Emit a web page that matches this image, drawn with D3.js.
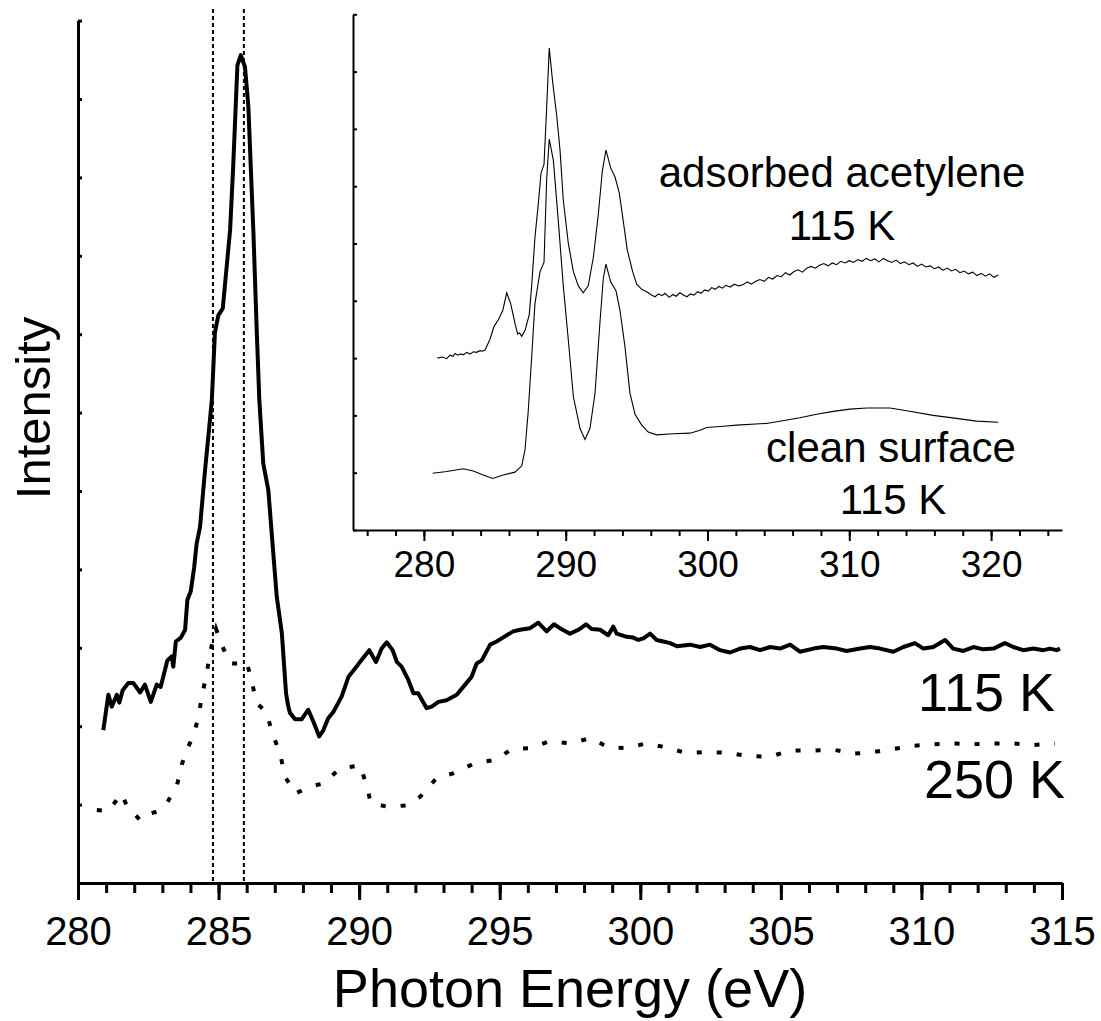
<!DOCTYPE html>
<html>
<head>
<meta charset="utf-8">
<script src="https://cdn.jsdelivr.net/npm/d3@7"></script>
<style>
  body { margin: 0; background: #fff; }
  text { font-family: "Liberation Sans", Arial, Helvetica, sans-serif; fill: #000; }
</style>
</head>
<body>
<svg id="chart" width="1101" height="1021"></svg>
<script>
// C 1s NEXAFS spectra: [photon energy (eV), intensity (arb. units)]
const spectrum115K = [
  [280.90,1.95],[281.08,2.40],[281.20,2.25],[281.38,2.40],[281.47,2.30],[281.59,2.46],[281.79,2.55],[281.97,2.55],
  [282.21,2.43],[282.38,2.53],[282.59,2.31],[282.80,2.53],[282.94,2.50],[283.18,2.84],[283.33,2.89],[283.39,2.76],
  [283.48,3.08],[283.66,3.13],[283.81,3.23],[283.89,3.61],[284.01,3.72],[284.13,4.02],[284.22,4.33],[284.34,4.54],
  [284.52,5.27],[284.67,5.82],[284.76,6.16],[284.87,7.02],[284.99,7.24],[285.15,7.33],[285.41,8.33],[285.52,9.14],
  [285.67,10.43],[285.79,10.56],[285.94,10.41],[286.06,9.90],[286.24,8.29],[286.36,7.02],[286.45,6.16],[286.59,5.35],
  [286.77,5.01],[286.89,4.46],[287.07,3.65],[287.25,3.19],[287.40,2.42],[287.48,2.25],[287.54,2.17],[287.72,2.09],
  [287.96,2.09],[288.19,2.21],[288.37,2.06],[288.58,1.87],[288.73,1.95],[288.90,2.10],[289.08,2.18],[289.38,2.38],
  [289.62,2.63],[289.91,2.76],[290.03,2.82],[290.36,2.97],[290.60,2.82],[290.80,2.99],[290.98,3.07],[291.19,2.97],
  [291.34,2.82],[291.51,2.76],[291.75,2.59],[291.93,2.42],[292.10,2.42],[292.40,2.23],[292.58,2.25],[292.82,2.31],
  [293.11,2.33],[293.47,2.40],[293.77,2.53],[294.00,2.63],[294.18,2.80],[294.36,2.84],[294.66,3.04],[294.89,3.08],
  [295.07,3.12],[295.25,3.16],[295.48,3.21],[295.72,3.23],[296.08,3.25],[296.37,3.32],[296.67,3.21],[296.93,3.30],
  [297.14,3.25],[297.50,3.18],[297.80,3.23],[298.07,3.30],[298.27,3.24],[298.57,3.23],[298.86,3.16],[299.04,3.27],
  [299.16,3.18],[299.52,3.14],[299.75,3.13],[299.93,3.10],[300.11,3.12],[300.35,3.18],[300.58,3.10],[300.82,3.08],
  [301.06,3.06],[301.30,3.02],[301.77,3.04],[302.13,3.01],[302.48,3.04],[302.84,2.97],[303.19,2.94],[303.55,2.99],
  [303.90,3.01],[304.26,2.97],[304.62,3.01],[304.97,2.99],[305.33,3.04],[305.68,2.95],[306.16,2.99],[306.51,3.01],
  [306.99,2.99],[307.34,2.96],[307.82,2.99],[308.17,3.01],[308.53,2.99],[309.00,2.95],[309.36,3.01],[309.77,3.06],
  [310.07,2.99],[310.42,3.01],[310.84,3.10],[311.13,2.99],[311.49,2.96],[311.85,3.01],[312.20,2.98],[312.56,2.99],
  [312.97,3.06],[313.27,3.01],[313.62,2.97],[313.98,2.99],[314.34,2.97],[314.57,2.99],[314.81,2.97],[314.93,2.99]
];

const spectrum250K = [
  [280.67,0.93],[281.08,0.92],[281.55,1.14],[281.73,0.99],[282.21,0.80],[282.44,0.87],[282.80,0.91],[283.16,1.02],
  [283.51,1.23],[283.69,1.51],[283.92,1.74],[284.10,1.87],[284.30,2.14],[284.40,2.38],[284.58,2.67],[284.70,2.95],
  [284.91,3.24],[285.11,3.04],[285.41,2.80],[285.70,2.80],[286.00,2.82],[286.18,2.57],[286.36,2.29],[286.71,2.18],
  [286.89,1.93],[287.19,1.65],[287.36,1.36],[287.72,1.14],[288.25,1.23],[288.73,1.27],[289.32,1.46],[290.03,1.50],
  [290.29,1.22],[290.41,1.02],[291.04,0.97],[291.67,0.99],[292.17,1.10],[292.76,1.34],[293.37,1.40],[294.12,1.53],
  [294.87,1.57],[295.43,1.71],[296.08,1.72],[296.79,1.81],[297.50,1.78],[298.24,1.85],[298.86,1.73],[299.54,1.72],
  [300.20,1.78],[300.94,1.73],[301.59,1.66],[302.36,1.67],[303.13,1.66],[303.84,1.62],[304.59,1.61],[305.35,1.69],
  [306.13,1.69],[306.87,1.70],[307.60,1.65],[308.29,1.67],[309.03,1.71],[309.71,1.75],[310.42,1.77],[311.16,1.78],
  [311.79,1.77],[312.52,1.78],[313.25,1.78],[313.98,1.76],[314.75,1.78]
];

// Inset: wide-range scans at 115 K
const insetAcetylene = [
  [280.95,3.00],[281.30,3.02],[281.61,2.99],[281.84,3.05],[282.05,3.03],[282.19,3.08],[282.40,3.05],[282.55,3.07],
  [282.80,3.06],[283.02,3.10],[283.25,3.07],[283.48,3.11],[283.70,3.10],[283.96,3.13],[284.15,3.12],[284.31,3.14],
  [284.66,3.33],[284.94,3.55],[285.25,3.67],[285.56,3.83],[285.84,4.14],[286.12,3.95],[286.42,3.61],[286.61,3.42],
  [286.75,3.44],[286.90,3.38],[287.13,3.48],[287.43,3.76],[287.60,4.26],[287.83,5.10],[288.07,5.70],[288.26,6.23],
  [288.47,6.38],[288.66,7.38],[288.84,8.41],[289.08,7.82],[289.37,7.22],[289.60,6.63],[289.83,5.76],[290.18,5.01],
  [290.54,4.51],[290.89,4.26],[291.24,4.14],[291.59,4.26],[291.95,4.76],[292.30,5.51],[292.58,6.26],[292.84,6.63],
  [293.17,6.32],[293.48,6.16],[293.78,5.88],[294.06,5.39],[294.34,4.89],[294.72,4.51],[295.01,4.29],[295.36,4.20],
  [295.60,4.17],[295.82,4.14],[296.05,4.10],[296.30,4.07],[296.55,4.12],[296.80,4.09],[297.00,4.13],[297.30,4.06],
  [297.55,4.11],[297.80,4.08],[298.05,4.14],[298.30,4.10],[298.55,4.07],[298.80,4.12],[299.05,4.10],[299.30,4.16],
  [299.55,4.13],[299.80,4.19],[300.05,4.17],[300.30,4.23],[300.55,4.20],[300.80,4.25],[301.05,4.22],[301.30,4.27],
  [301.60,4.24],[301.90,4.29],[302.20,4.26],[302.50,4.28],[302.80,4.33],[303.10,4.29],[303.40,4.34],[303.70,4.37],
  [304.00,4.34],[304.30,4.41],[304.60,4.38],[304.90,4.44],[305.20,4.42],[305.50,4.49],[305.80,4.45],[306.10,4.51],
  [306.40,4.54],[306.70,4.50],[307.00,4.57],[307.30,4.60],[307.60,4.57],[307.90,4.62],[308.20,4.65],[308.50,4.61],
  [308.80,4.66],[309.10,4.63],[309.40,4.69],[309.70,4.66],[310.00,4.70],[310.30,4.67],[310.60,4.72],[310.90,4.69],
  [311.20,4.74],[311.50,4.70],[311.80,4.73],[312.10,4.68],[312.40,4.74],[312.70,4.70],[313.00,4.67],[313.30,4.71],
  [313.60,4.65],[313.90,4.68],[314.20,4.63],[314.50,4.66],[314.80,4.60],[315.10,4.64],[315.40,4.59],[315.70,4.61],
  [316.00,4.56],[316.30,4.59],[316.60,4.53],[316.90,4.57],[317.20,4.52],[317.50,4.55],[317.80,4.49],[318.10,4.52],
  [318.40,4.47],[318.70,4.50],[319.00,4.44],[319.30,4.48],[319.60,4.43],[319.90,4.47],[320.20,4.41],[320.51,4.45]
];

const insetClean = [
  [280.62,0.99],[281.61,1.02],[282.78,1.07],[283.48,1.03],[284.19,0.96],[284.85,0.90],[285.60,0.96],[286.42,1.01],
  [286.90,1.12],[287.13,1.40],[287.36,2.08],[287.60,3.02],[287.83,3.95],[288.19,4.51],[288.47,4.67],[288.66,6.13],
  [288.84,6.82],[289.13,6.45],[289.48,5.39],[289.83,4.26],[290.18,3.33],[290.54,2.33],[291.01,1.77],[291.36,1.58],
  [291.71,1.77],[292.07,2.39],[292.42,3.64],[292.65,4.39],[292.84,4.64],[293.17,4.33],[293.55,4.17],[293.83,3.83],
  [294.18,3.20],[294.53,2.39],[294.89,2.02],[295.36,1.83],[295.82,1.71],[296.42,1.66],[297.59,1.68],[298.77,1.69],
  [299.47,1.74],[299.94,1.79],[301.11,1.81],[302.06,1.83],[304.17,1.86],[306.52,1.96],[307.70,2.02],[308.87,2.07],
  [310.05,2.11],[311.23,2.13],[312.87,2.13],[314.05,2.08],[315.92,2.00],[317.81,1.94],[318.98,1.90],[320.51,1.88]
];

// Reference energies marked by vertical dotted lines
const markerEnergies = [284.8, 285.9];

// Axis ticks
const mainMajorTicks = [280, 285, 290, 295, 300, 305, 310, 315];
const mainMinorTicks = d3.range(280, 316, 1);
const mainYTicks = d3.range(0, 12, 1);
const insetMajorTicks = [280, 290, 300, 310, 320];
const insetMinorTicks = d3.range(276, 326, 2);
const insetYTicks = d3.range(0, 10, 1);

const svg = d3.select("#chart");

// ---------- main panel ----------
const x = d3.scaleLinear().domain([280, 315]).range([78, 1062]);
const y = d3.scaleLinear().domain([0, 11]).range([883, 20.6]);

const line = d3.line().x(d => x(d[0])).y(d => y(d[1]));

// dotted reference lines
svg.append("g").selectAll("line").data(markerEnergies).join("line")
  .attr("x1", d => x(d)).attr("x2", d => x(d))
  .attr("y1", 9).attr("y2", 883)
  .attr("stroke", "#000").attr("stroke-width", 2)
  .attr("stroke-dasharray", "4,3");

svg.append("path").datum(spectrum250K)
  .attr("d", line)
  .attr("fill", "none").attr("stroke", "#000")
  .attr("stroke-width", 4)
  .attr("stroke-dasharray", "5,15");

svg.append("path").datum(spectrum115K)
  .attr("d", line)
  .attr("fill", "none").attr("stroke", "#000")
  .attr("stroke-width", 4).attr("stroke-linejoin", "round");

// x axis: minor ticks
svg.append("g").attr("transform", "translate(0,883)")
  .call(d3.axisBottom(x).tickValues(mainMinorTicks).tickSize(10).tickSizeOuter(0).tickFormat(""))
  .call(g => g.select(".domain").remove())
  .call(g => g.selectAll(".tick line").attr("stroke-width", 3));

// x axis: major ticks and labels
const xAxisG = svg.append("g").attr("transform", "translate(0,883)")
  .call(d3.axisBottom(x).tickValues(mainMajorTicks).tickSize(17).tickSizeOuter(0).tickFormat(d3.format("d")));
xAxisG.select(".domain").attr("stroke-width", 3);
xAxisG.selectAll(".tick line").attr("stroke-width", 3);
xAxisG.selectAll(".tick text")
  .attr("y", 62).attr("dy", null)
  .style("font-size", "40px")
  .style("font-family", "'Liberation Sans', Arial, sans-serif");

// y axis with inward ticks, no labels
const yAxisG = svg.append("g").attr("transform", "translate(78,0)")
  .call(d3.axisLeft(y).tickValues(mainYTicks).tickSize(-4).tickSizeOuter(0).tickFormat(""));
yAxisG.select(".domain").attr("stroke-width", 3);
yAxisG.selectAll(".tick line").attr("stroke-width", 3);

svg.append("text")
  .attr("transform", "translate(50,408) rotate(-90)")
  .attr("text-anchor", "middle")
  .style("font-size", "49px")
  .text("Intensity");

svg.append("text")
  .attr("x", 570).attr("y", 1007)
  .attr("text-anchor", "middle")
  .style("font-size", "54px")
  .text("Photon Energy (eV)");

svg.append("text")
  .attr("x", 1055).attr("y", 711)
  .attr("text-anchor", "end")
  .style("font-size", "54px")
  .text("115 K");

svg.append("text")
  .attr("x", 1065).attr("y", 798)
  .attr("text-anchor", "end")
  .style("font-size", "54px")
  .text("250 K");

// ---------- inset ----------
const xi = d3.scaleLinear().domain([275, 325]).range([353, 1062]);
const yi = d3.scaleLinear().domain([0, 9]).range([530, 14.3]);
const insetLine = d3.line().x(d => xi(d[0])).y(d => yi(d[1]));

svg.append("path").datum(insetAcetylene)
  .attr("d", insetLine)
  .attr("fill", "none").attr("stroke", "#000").attr("stroke-width", 1.1);

svg.append("path").datum(insetClean)
  .attr("d", insetLine)
  .attr("fill", "none").attr("stroke", "#000").attr("stroke-width", 1.1);

svg.append("g").attr("transform", "translate(0,530)")
  .call(d3.axisBottom(xi).tickValues(insetMinorTicks).tickSize(6).tickSizeOuter(0).tickFormat(""))
  .call(g => g.select(".domain").remove())
  .call(g => g.selectAll(".tick line").attr("stroke-width", 2));

const xiAxisG = svg.append("g").attr("transform", "translate(0,530)")
  .call(d3.axisBottom(xi).tickValues(insetMajorTicks).tickSize(11).tickSizeOuter(0).tickFormat(d3.format("d")));
xiAxisG.select(".domain").attr("stroke-width", 2);
xiAxisG.selectAll(".tick line").attr("stroke-width", 2);
xiAxisG.selectAll(".tick text")
  .attr("y", 47).attr("dy", null)
  .style("font-size", "37px")
  .style("font-family", "'Liberation Sans', Arial, sans-serif");

const yiAxisG = svg.append("g").attr("transform", "translate(353,0)")
  .call(d3.axisLeft(yi).tickValues(insetYTicks).tickSize(-4).tickSizeOuter(0).tickFormat(""));
yiAxisG.select(".domain").attr("stroke-width", 2);
yiAxisG.selectAll(".tick line").attr("stroke-width", 2);

const insetLabels = [
  { text: "adsorbed acetylene", x: 842, y: 187 },
  { text: "115 K", x: 842, y: 240 },
  { text: "clean surface", x: 891, y: 462 },
  { text: "115 K", x: 893, y: 514 }
];
svg.append("g").selectAll("text").data(insetLabels).join("text")
  .attr("x", d => d.x).attr("y", d => d.y)
  .attr("text-anchor", "middle")
  .style("font-size", "42px")
  .text(d => d.text);
</script>
</body>
</html>
